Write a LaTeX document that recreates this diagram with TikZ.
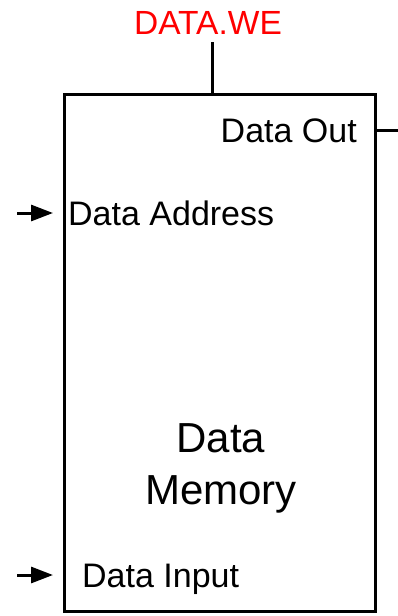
\documentclass[tikz,border=0pt]{standalone}
\usepackage{fontspec}
\setmainfont{Liberation Sans}
\usetikzlibrary{arrows.meta}

\begin{document}
\begin{tikzpicture}[line cap=butt,line join=miter,>={Triangle[length=22pt,width=16pt]},x=1pt,y=-1pt,
    port/.style={inner sep=0pt,font=\fontsize{34}{40}\selectfont},
    wire/.style={line width=3pt}]
\useasboundingbox (0,0) rectangle (398,616);
%block
\node[draw,line width=3pt,minimum width=311pt,minimum height=517pt,inner sep=0pt] at (220,353) (mem) {};
\node[inner sep=0pt,align=center,font=\fontsize{42}{52}\selectfont,anchor=base] at (221,504) (title) {Data\\Memory};
%labels
\node[port,anchor=base,text=red,font=\fontsize{33.5}{40}\selectfont] at (208,34) (we) {DATA.WE};
\node[port,anchor=base east] at (357,142) (dout) {Data Out};
\node[port,anchor=base west] at (68,225) (daddr) {Data Address};
\node[port,anchor=base west] at (82,587) (din) {Data Input};
%ends of the wires
\coordinate (wetop) at (212,42);
\coordinate (outend) at (400,130);
\coordinate (addrin) at (17,213);
\coordinate (inin) at (17,575);
%wires
\draw [wire] (wetop) -- (wetop |- mem.north);%we
\draw [wire] (mem.east |- outend) -- (outend);%out
\draw [wire,->,shorten >=10pt] (addrin) -- (mem.west |- addrin);%address
\draw [wire,->,shorten >=10pt] (inin) -- (mem.west |- inin);%input
\end{tikzpicture}
\end{document}
